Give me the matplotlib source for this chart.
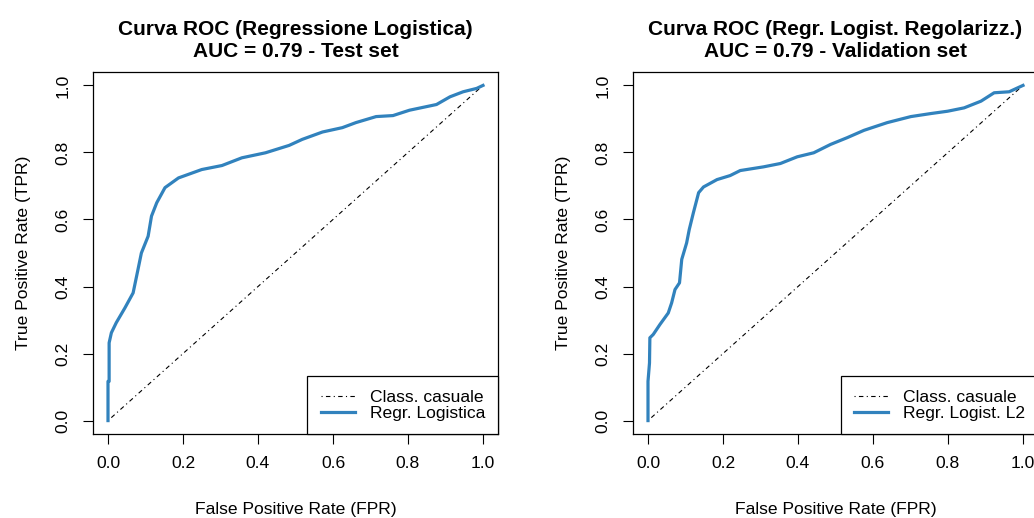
import matplotlib
matplotlib.use("Agg")
import matplotlib.pyplot as plt

plt.rcParams['font.family'] = ['Liberation Sans', 'DejaVu Sans']

# curva ROC - regressione logistica (test set)
fpr_test = [0.0, 0.0, 0.003, 0.003, 0.009, 0.022, 0.045, 0.067, 0.080, 0.089,
            0.107, 0.116, 0.130, 0.152, 0.188, 0.250, 0.304, 0.357, 0.420,
            0.483, 0.518, 0.572, 0.625, 0.661, 0.715, 0.760, 0.804, 0.876,
            0.912, 0.947, 0.983, 1.0]
tpr_test = [0.0, 0.117, 0.117, 0.232, 0.262, 0.292, 0.336, 0.381, 0.451, 0.500,
            0.550, 0.610, 0.650, 0.695, 0.724, 0.749, 0.761, 0.784, 0.799,
            0.821, 0.839, 0.861, 0.874, 0.889, 0.907, 0.910, 0.926, 0.943,
            0.966, 0.981, 0.991, 1.0]

# curva ROC - regr. logistica regolarizzata L2 (validation set)
fpr_val = [0.0, 0.0, 0.004, 0.005, 0.014, 0.032, 0.054, 0.063, 0.072, 0.084,
           0.090, 0.103, 0.110, 0.121, 0.135, 0.148, 0.184, 0.219, 0.246,
           0.308, 0.353, 0.398, 0.442, 0.487, 0.531, 0.576, 0.638, 0.701,
           0.754, 0.799, 0.843, 0.888, 0.923, 0.963, 1.0]
tpr_val = [0.0, 0.117, 0.172, 0.247, 0.257, 0.287, 0.321, 0.351, 0.391, 0.411,
           0.481, 0.530, 0.570, 0.620, 0.680, 0.697, 0.719, 0.731, 0.746,
           0.757, 0.767, 0.787, 0.799, 0.824, 0.844, 0.866, 0.889, 0.907,
           0.916, 0.923, 0.933, 0.953, 0.978, 0.981, 1.0]

titles = ["Curva ROC (Regressione Logistica)\nAUC = 0.79 - Test set",
          "Curva ROC (Regr. Logist. Regolarizz.)\nAUC = 0.79 - Validation set"]
labels = ["Regr. Logistica", "Regr. Logist. L2"]
ticks = [0.0, 0.2, 0.4, 0.6, 0.8, 1.0]

W, H = 1034, 518
fig = plt.figure(figsize=(W / 100, H / 100), dpi=100)

blu = '#3182BD'
fs = 12.6

panels = [(93, fpr_test, tpr_test), (633, fpr_val, tpr_val)]
for i, (left, xs, ys) in enumerate(panels):
    ax = fig.add_axes([left / W, 1 - 434 / H, 405 / W, 362 / H])
    ax.plot([0, 1], [0, 1], color='black', lw=0.8, dashes=(1, 3, 4, 3),
            label="Class. casuale")
    ax.plot(xs, ys, color=blu, lw=2.3, label=labels[i])
    ax.set_xlim(-0.04, 1.04)
    ax.set_ylim(-0.04, 1.04)
    ax.set_xticks(ticks)
    ax.set_yticks(ticks)
    ax.set_xticklabels([f"{t:.1f}" for t in ticks])
    ax.set_yticklabels([f"{t:.1f}" for t in ticks], rotation=90, va='center')
    ax.tick_params(direction='out', length=7, width=0.8, labelsize=fs, pad=9)
    for s in ax.spines.values():
        s.set_linewidth(0.9)
    ax.set_xlabel("False Positive Rate (FPR)", fontsize=fs, labelpad=22)
    ax.set_ylabel("True Positive Rate (TPR)", fontsize=fs, labelpad=18)
    leg = ax.legend(loc='lower right', fontsize=fs, borderaxespad=0,
                    fancybox=False, edgecolor='black', framealpha=1,
                    handlelength=1.95, handletextpad=0.85, borderpad=0.75,
                    labelspacing=0.05)
    leg.get_frame().set_linewidth(0.9)
    cx = (left + 405 / 2) / W
    fig.text(cx, 1 - 40.5 / H, titles[i], ha='center', va='center',
             fontsize=15, fontweight='bold', linespacing=1.15)

fig.savefig("out.png", dpi=100)
